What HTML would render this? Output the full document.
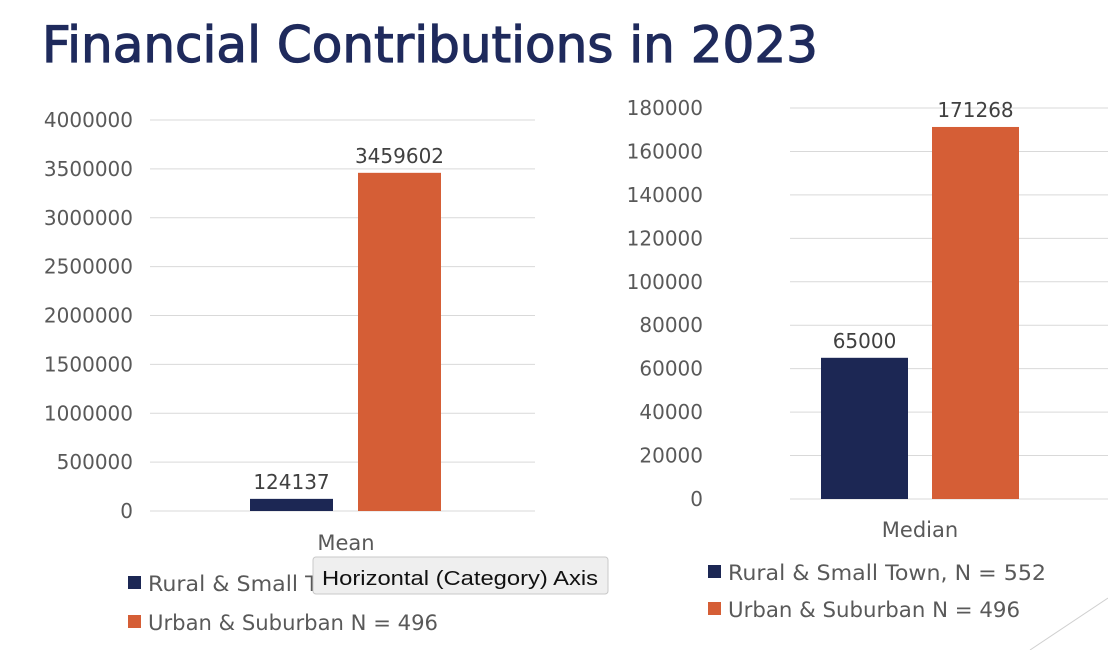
<!DOCTYPE html>
<html><head><meta charset="utf-8"><style>
html,body{margin:0;padding:0;background:#fff;}
svg{display:block;font-family:"DejaVu Sans","Liberation Sans",sans-serif;}
</style></head><body>
<svg id="c" width="1108" height="650" viewBox="0 0 1108 650">
<text x="42" y="62" font-size="50" fill="#1f2a5c" stroke="#1f2a5c" stroke-width="1.2" textLength="776" lengthAdjust="spacingAndGlyphs">Financial Contributions in 2023</text>
<line x1="1030" y1="650" x2="1108" y2="598" stroke="#d0d0d0" stroke-width="1"/>
<g id="left"></g>
<g id="right"></g>
<g>
<rect x="128" y="576" width="13" height="13" fill="#1c2754"/>
<text x="148" y="591" font-size="21" fill="#595959" textLength="318" lengthAdjust="spacingAndGlyphs">Rural &amp; Small Town, N = 552</text>
<rect x="128" y="615" width="13" height="13" fill="#d55e36"/>
<text x="148" y="630" font-size="21" fill="#595959" textLength="290" lengthAdjust="spacingAndGlyphs">Urban &amp; Suburban N = 496</text>
</g>
<g>
<rect x="708" y="565" width="13" height="13" fill="#1c2754"/>
<text x="728" y="580" font-size="21" fill="#595959" textLength="318" lengthAdjust="spacingAndGlyphs">Rural &amp; Small Town, N = 552</text>
<rect x="708" y="602" width="13" height="13" fill="#d55e36"/>
<text x="728" y="617" font-size="21" fill="#595959" textLength="292" lengthAdjust="spacingAndGlyphs">Urban &amp; Suburban N = 496</text>
</g>
<g>
<rect x="313" y="557" width="295" height="37" rx="3" fill="#efefef" stroke="#c8c8c8"/>
<text x="322" y="585" font-size="20" fill="#111" font-family="Liberation Sans, sans-serif" textLength="276" lengthAdjust="spacingAndGlyphs">Horizontal (Category) Axis</text>
</g>
</svg>
<script>
const seriesNames=["Rural & Small Town","Urban & Suburban"];
const meanValues=[124137,3459602];
const medianValues=[65000,171268];
const meanTicks=[0,500000,1000000,1500000,2000000,2500000,3000000,3500000,4000000];
const medianTicks=[0,20000,40000,60000,80000,100000,120000,140000,160000,180000];
const colors=["#1c2754","#d55e36"];
const NS="http://www.w3.org/2000/svg";
function mk(tag,attrs,parent,txt){const e=document.createElementNS(NS,tag);for(const k in attrs)e.setAttribute(k,attrs[k]);if(txt!==undefined)e.textContent=txt;parent.appendChild(e);return e;}
function draw(g,cfg,values,ticks,cat){
  const max=ticks[ticks.length-1];
  const y=v=>cfg.y0-(v/max)*(cfg.y0-cfg.yTop);
  ticks.forEach((t,i)=>{
    const l=mk('line',{x1:cfg.x0,x2:cfg.x1,y1:y(t),y2:y(t),stroke:'#d9d9d9','stroke-width':1},g);
    
    
    const tx=mk('text',{x:cfg.labelX,y:y(t)+7,'font-size':20,fill:'#595959','text-anchor':'end'},g,String(t));
    
    
  });
  values.forEach((v,i)=>{
    const bx=cfg.barX[i];
    const r=mk('rect',{x:bx,y:y(v),width:cfg.barW,height:cfg.y0-y(v),fill:colors[i]},g);
    
    
    const lb=mk('text',{x:bx+cfg.barW/2,y:y(v)-10,'font-size':20,fill:'#404040','text-anchor':'middle'},g,String(v));
    
    
  });
  const c=mk('text',{x:cfg.catX,y:cfg.catY,'font-size':21,fill:'#595959','text-anchor':'middle'},g,cat);
  
  
}
draw(document.getElementById('left'),{x0:150,x1:535,y0:511,yTop:120,labelX:133,barX:[250,358],barW:83,catX:346,catY:550},meanValues,meanTicks,"Mean");
draw(document.getElementById('right'),{x0:790,x1:1108,y0:499,yTop:108,labelX:703,barX:[821,932],barW:87,catX:920,catY:537},medianValues,medianTicks,"Median");
</script>
</body></html>
